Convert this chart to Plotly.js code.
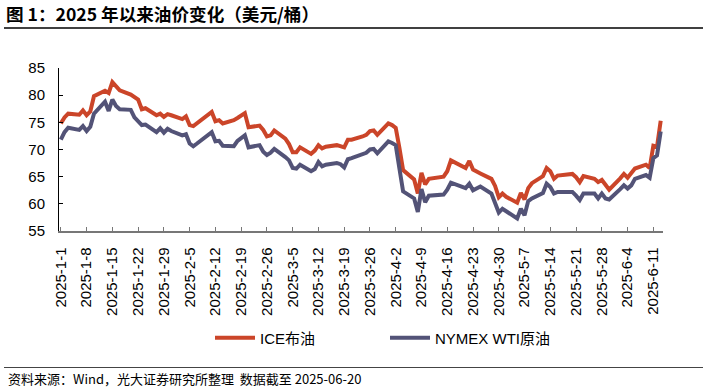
<!DOCTYPE html>
<html><head><meta charset="utf-8">
<script src="https://cdn.plot.ly/plotly-3.0.1.min.js"></script>
<style>html,body{margin:0;padding:0;background:#fff}#chart{width:703px;height:389px}</style>
</head><body><div id="chart"></div>
<script>
const dates = [
 '2025-01-01','2025-01-02','2025-01-03','2025-01-06','2025-01-07','2025-01-08','2025-01-09','2025-01-10','2025-01-13','2025-01-14','2025-01-15','2025-01-16','2025-01-17','2025-01-20','2025-01-21','2025-01-22','2025-01-23','2025-01-24','2025-01-27','2025-01-28','2025-01-29','2025-01-30','2025-01-31',
 '2025-02-03','2025-02-04','2025-02-05','2025-02-06','2025-02-07','2025-02-10','2025-02-11','2025-02-12','2025-02-13','2025-02-14','2025-02-17','2025-02-18','2025-02-19','2025-02-20','2025-02-21','2025-02-24','2025-02-25','2025-02-26','2025-02-27','2025-02-28',
 '2025-03-03','2025-03-04','2025-03-05','2025-03-06','2025-03-07','2025-03-10','2025-03-11','2025-03-12','2025-03-13','2025-03-14','2025-03-17','2025-03-18','2025-03-19','2025-03-20','2025-03-21','2025-03-24','2025-03-25','2025-03-26','2025-03-27','2025-03-28','2025-03-31',
 '2025-04-01','2025-04-02','2025-04-03','2025-04-04','2025-04-07','2025-04-08','2025-04-09','2025-04-10','2025-04-11','2025-04-14','2025-04-15','2025-04-16','2025-04-17','2025-04-21','2025-04-22','2025-04-23','2025-04-24','2025-04-25','2025-04-28','2025-04-29','2025-04-30',
 '2025-05-01','2025-05-02','2025-05-05','2025-05-06','2025-05-07','2025-05-08','2025-05-09','2025-05-12','2025-05-13','2025-05-14','2025-05-15','2025-05-16','2025-05-19','2025-05-20','2025-05-21','2025-05-22','2025-05-23','2025-05-26','2025-05-27','2025-05-28','2025-05-29','2025-05-30',
 '2025-06-02','2025-06-03','2025-06-04','2025-06-05','2025-06-06','2025-06-09','2025-06-10','2025-06-11','2025-06-12','2025-06-13'
];
const iceBrent = [
 74.8,75.9,76.6,76.4,77.2,76.3,77.0,79.8,80.8,80.4,82.4,81.5,80.9,80.1,79.7,79.2,77.4,77.6,76.3,76.6,76.0,76.5,76.3,
 75.6,76.1,74.5,74.3,74.8,76.4,76.9,75.2,75.4,74.8,75.4,75.8,76.2,76.7,74.1,74.4,73.6,72.4,72.6,73.5,
 72.0,71.0,69.5,69.5,70.4,69.2,69.8,70.8,70.2,70.5,70.8,70.5,70.4,71.8,71.8,72.4,72.7,73.4,73.5,72.7,74.8,
 74.5,74.0,70.3,66.2,64.5,61.9,65.7,63.6,64.6,64.9,65.0,66.0,68.0,66.6,67.9,66.3,65.9,65.6,64.6,63.3,61.2,
 61.9,61.3,60.2,62.0,60.8,62.9,63.8,65.1,66.6,66.0,64.6,65.2,65.4,65.5,64.9,64.0,65.1,64.6,64.0,64.4,63.5,62.6,
 64.7,65.5,64.8,65.6,66.5,67.2,66.6,70.7,70.5,75.3
];
const nymexWti = [
 71.8,73.2,74.0,73.6,74.3,73.4,74.2,76.6,78.8,77.1,79.2,78.0,77.4,77.3,75.9,75.2,74.5,74.6,73.2,73.9,73.1,73.8,73.4,
 72.6,72.8,71.1,70.6,71.1,72.7,73.2,71.5,71.6,70.7,70.6,71.6,72.1,72.6,70.4,70.8,69.6,69.0,69.4,70.1,
 68.6,68.0,66.6,66.5,67.2,66.0,66.4,67.7,66.9,67.2,67.5,67.3,66.7,68.2,68.4,69.2,69.4,70.0,70.1,69.3,71.5,
 71.2,70.8,66.5,62.3,61.0,58.5,62.7,60.3,61.5,61.6,61.7,62.6,63.9,62.9,63.7,62.5,62.9,63.2,61.9,60.2,58.4,
 59.1,58.7,57.3,59.1,57.9,60.5,61.0,62.0,63.7,63.1,61.9,62.2,62.2,62.2,61.5,60.7,61.9,61.9,61.0,61.9,61.0,60.8,
 62.7,63.4,62.8,63.4,64.6,65.3,64.8,68.4,68.9,73.3
];
const seriesNames = ['ICE布油', 'NYMEX WTI原油'];
const seriesColors = ['#CB4529', '#535377'];
const titleText = '图 1：2025 年以来油价变化（美元/桶）';
const sourceText = '资料来源：Wind，光大证券研究所整理  数据截至 2025-06-20';

const latin = 'Liberation Sans, Arial, Noto Sans CJK SC, sans-serif';
const cjk = 'Noto Sans CJK SC, sans-serif';

const traces = [iceBrent, nymexWti].map((vals, i) => ({
  type: 'scatter', mode: 'lines', x: dates, y: vals, name: seriesNames[i],
  line: {color: seriesColors[i], width: 4}
}));

const L = 59, T = 68, W = 604, H = 163;
const px2x = p => (p - L) / W;
const py2y = p => (T + H - p) / H;

const layout = {
  width: 703, height: 389,
  margin: {l: L, r: 703 - L - W, t: T, b: 389 - T - H},
  paper_bgcolor: '#fff', plot_bgcolor: '#fff',
  font: {family: latin, size: 15, color: '#000'},
  showlegend: true,
  title: {text: '<b>' + titleText + '</b>', font: {family: cjk, size: 17.6, color: '#000'},
    x: 6 / 703, xanchor: 'left', xref: 'container', y: 1 - 14.5 / 389, yanchor: 'middle', yref: 'container'},
  xaxis: {type: 'date', range: ['2024-12-31 12:00', '2025-06-13 15:00'],
    tickmode: 'linear', tick0: '2025-01-01', dtick: 7 * 86400000, tickformat: '%Y-%-m-%-d',
    tickangle: -90, ticks: 'inside', ticklen: 4, tickcolor: '#777', tickwidth: 1,
    showline: true, linecolor: '#777', linewidth: 1.5, showgrid: false, zeroline: false,
    tickfont: {family: latin, size: 15, color: '#000'}, ticklabelstandoff: 9, fixedrange: true},
  yaxis: {range: [55, 85], tickmode: 'linear', tick0: 55, dtick: 5,
    ticks: 'inside', ticklen: 4, tickcolor: '#000', showline: true, linecolor: '#000', linewidth: 1,
    showgrid: false, zeroline: false, tickfont: {family: latin, size: 15, color: '#000'},
    ticklabelstandoff: 10, fixedrange: true},
  legend: {orientation: 'h', x: px2x(210), xanchor: 'left', y: py2y(338), yanchor: 'middle',
    font: {family: latin, size: 15, color: '#000'}, itemwidth: 40, entrywidth: 120, entrywidthmode: 'pixels',
    bgcolor: 'rgba(0,0,0,0)'},
  annotations: [{text: sourceText, xref: 'paper', yref: 'paper', x: px2x(6), y: py2y(378),
    xanchor: 'left', yanchor: 'middle', showarrow: false, font: {family: cjk, size: 13, color: '#000'}}],
  shapes: [
    {type: 'line', xref: 'paper', yref: 'paper', x0: px2x(4), x1: px2x(703), y0: py2y(28), y1: py2y(28), line: {color: '#000', width: 1.5}},
    {type: 'line', xref: 'paper', yref: 'paper', x0: px2x(4), x1: px2x(703), y0: py2y(367.5), y1: py2y(367.5), line: {color: '#444', width: 1}}
  ]
};
Plotly.newPlot('chart', traces, layout, {displayModeBar: false, staticPlot: true});
</script>
</body></html>
